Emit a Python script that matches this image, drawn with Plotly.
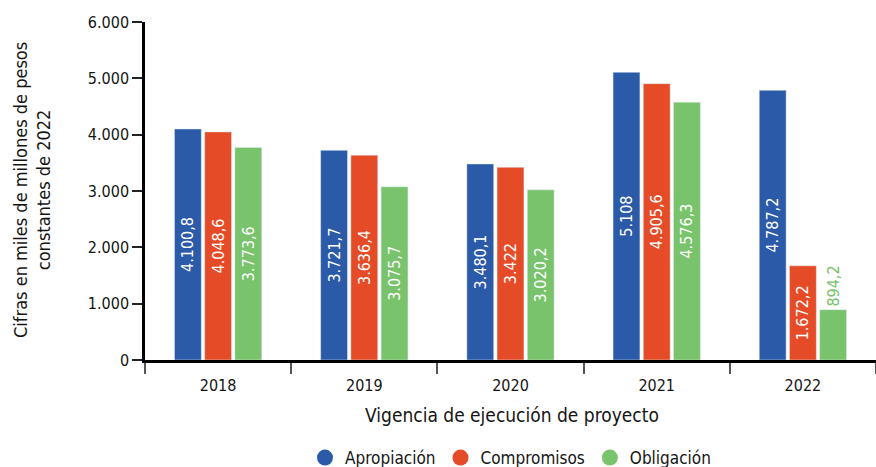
import plotly.graph_objects as go

years = ["2018", "2019", "2020", "2021", "2022"]
apropiacion = [4100.8, 3721.7, 3480.1, 5108.0, 4787.2]
compromisos = [4048.6, 3636.4, 3422.0, 4905.6, 1672.2]
obligacion = [3773.6, 3075.7, 3020.2, 4576.3, 894.2]
series_names = ["Apropiación", "Compromisos", "Obligación"]
y_ticks = [0, 1000, 2000, 3000, 4000, 5000, 6000]

colors = ["#2A5AA8", "#E54B26", "#78C36B"]
FONT = "DejaVu Sans Condensed, Roboto, sans-serif"

W, H = 876, 467
ML, MR, MT, MB = 145, 0, 22, 467 - 360
PW, PH = W - ML - MR, H - MT - MB


def px_x(x):  # page pixel -> paper x
    return (x - ML) / PW


def px_y(y):  # page pixel -> paper y
    return (H - MB - y) / PH


def fmt(v):
    if float(v).is_integer():
        s = f"{int(v):,}".replace(",", ".")
    else:
        s = f"{v:,.1f}".replace(",", "X").replace(".", ",").replace("X", ".")
    return s


fig = go.Figure()
for name, vals, col in zip(series_names, [apropiacion, compromisos, obligacion], colors):
    positions = []
    tcolors = []
    for v in vals:
        if v < 1200:
            positions.append("outside")
            tcolors.append(col)
        else:
            positions.append("inside")
            tcolors.append("white")
    fig.add_trace(go.Bar(
        x=years, y=vals, name=name, marker_color=col,
        text=[fmt(v) for v in vals], textposition=positions,
        textangle=-90, insidetextanchor="middle",
        textfont=dict(color=tcolors, size=16, family=FONT),
        constraintext="none", cliponaxis=False,
        showlegend=False, hoverinfo="skip",
    ))
    fig.add_trace(go.Scatter(
        x=[None], y=[None], mode="markers", name=name,
        marker=dict(color=col, size=18, symbol="circle"),
    ))

fig.update_layout(
    width=W, height=H,
    margin=dict(l=ML, r=MR, t=MT, b=MB, autoexpand=False),
    paper_bgcolor="white", plot_bgcolor="white",
    barmode="group", bargap=0.38, bargroupgap=0.11,
    separators=",.",
    font=dict(family=FONT, size=16, color="#151515"),
    legend=dict(orientation="h", x=0.5, xanchor="center", y=px_y(458), yanchor="middle",
                font=dict(size=17), itemsizing="trace"),
    xaxis=dict(
        automargin=False,
        showline=True, linecolor="black", linewidth=2.5,
        ticks="outside", tickson="boundaries", ticklen=11, tickcolor="#555", tickwidth=1.5,
        ticklabelstandoff=9,
        tickfont=dict(size=16), showgrid=False,
    ),
    yaxis=dict(
        automargin=False,
        range=[0, 6000], tickvals=y_ticks, tickformat=",d",
        showline=True, linecolor="black", linewidth=2.5,
        ticks="outside", ticklen=10, tickcolor="#222", tickwidth=2,
        tickfont=dict(size=16), showgrid=False, zeroline=False,
    ),
    annotations=[
        dict(text="Vigencia de ejecución de proyecto", xref="paper", yref="paper",
             x=px_x(512), y=px_y(415), xanchor="center", yanchor="middle",
             showarrow=False, font=dict(size=19)),
        dict(text="Cifras en miles de millones de pesos<br>constantes de 2022", textangle=-90,
             xref="paper", yref="paper", x=px_x(32), y=px_y(190),
             xanchor="center", yanchor="middle", showarrow=False, font=dict(size=18)),
    ],
)

fig.write_html(
    "out.html",
    config={"displayModeBar": False},
    post_script="document.body.style.margin='0';document.body.style.padding='0';"
                "document.documentElement.style.overflow='hidden';",
)
